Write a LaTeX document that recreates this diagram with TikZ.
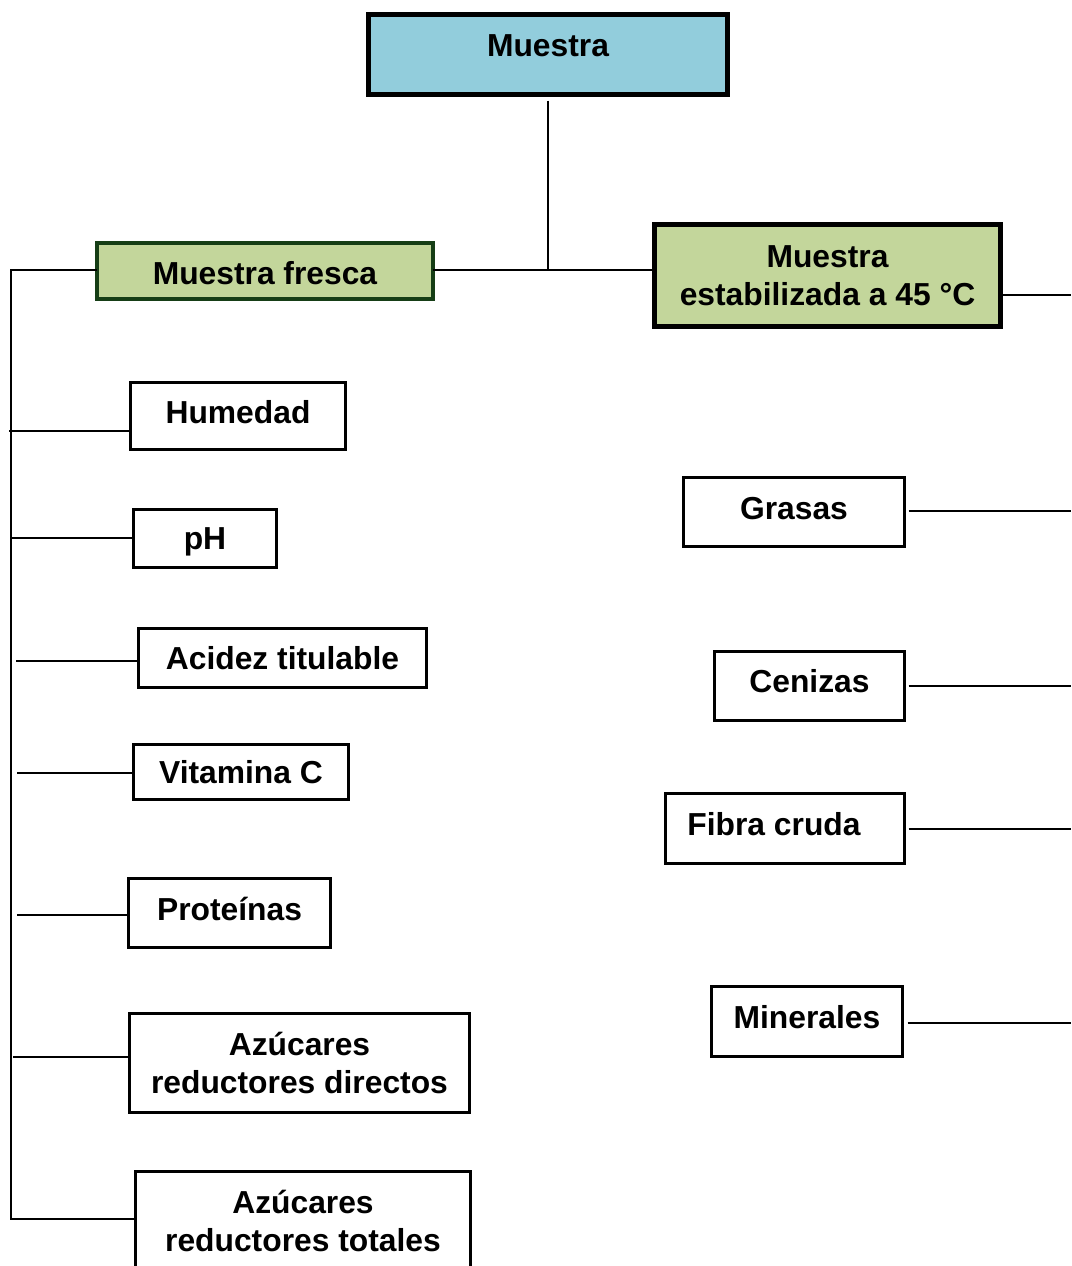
\documentclass[tikz,border=0pt]{standalone}
\usepackage{fontspec}
\setmainfont{Liberation Sans}
\definecolor{boxblue}{RGB}{146,205,220}
\definecolor{boxgreen}{RGB}{195,214,155}
\definecolor{darkgreen}{RGB}{22,62,22}
\begin{document}
\begin{tikzpicture}[x=1pt,y=-1pt,
  every node/.style={font=\fontsize{31.8}{38}\selectfont\bfseries, inner sep=0pt, outer sep=0pt},
  box/.style={draw, rectangle, line width=3.4pt, fill=white, text height=22.6pt, text depth=8pt},
  multibox/.style={draw, rectangle, line width=3.4pt, fill=white, align=center},
  conn/.style={line width=2.3pt}]
\useasboundingbox (0,0) rectangle (1071,1266);
% main boxes
\node[draw, line width=5pt, fill=boxblue, minimum width=359pt, minimum height=80pt, text height=22.6pt, text depth=19pt] (muestra) at (548,54.5) {Muestra};
\node[draw, line width=4.5pt, draw=darkgreen, fill=boxgreen, minimum width=336pt, minimum height=56pt, text height=27.6pt, text depth=0pt] (fresca) at (265,271) {Muestra fresca};
\node[draw, line width=5pt, fill=boxgreen, minimum width=346pt, minimum height=102pt, align=center] (estab) at (827.5,275.5) {Muestra\\estabilizada a 45 °C};
% left boxes
\node[box, minimum width=215pt, minimum height=67pt] (hum) at (238,416) {Humedad};
\node[box, minimum width=143pt, minimum height=58pt, text depth=0pt] (ph) at (205,538.5) {pH};
\node[box, minimum width=288pt, minimum height=59pt, text depth=0pt] (acid) at (282.5,658) {Acidez titulable};
\node[box, minimum width=215pt, minimum height=55pt, text depth=0pt] (vitc) at (241,772) {Vitamina C};
\node[box, minimum width=202pt, minimum height=69pt] (prot) at (229.5,913) {Proteínas};
\node[multibox, minimum width=340pt, minimum height=99pt] (ard) at (299.5,1063) {Azúcares\\reductores directos};
\node[multibox, minimum width=335pt, minimum height=99pt] (art) at (303,1221) {Azúcares\\reductores totales};
% right boxes
\node[box, minimum width=221pt, minimum height=69pt] (gras) at (794,512) {Grasas};
\node[box, minimum width=190pt, minimum height=69pt, text depth=10pt] (cen) at (809.5,686) {Cenizas};
\node[box, minimum width=239pt, minimum height=70pt] (fib) at (785,828.5) {Fibra cruda\hspace*{22pt}};
\node[box, minimum width=191pt, minimum height=70pt] (min) at (807,1021.5) {Minerales};
% connectors top
\coordinate (j) at (548,270);
\draw[conn] ([yshift=-6pt]muestra.south) -- (j);
\draw[conn] (fresca.east |- j) -- (estab.west |- j);
% left trunk
\coordinate (tt) at (11,270);
\coordinate (tb) at (11,1219);
\draw[conn] (fresca.west |- tt) -- (tt) -- (tb) -- (art.west |- tb);
\coordinate (lhum) at (9,431);
\coordinate (lph) at (11,538);
\coordinate (lacid) at (16,661);
\coordinate (lvitc) at (17,773);
\coordinate (lprot) at (17,915);
\coordinate (lard) at (13,1057);
\draw[conn] (lhum) -- (lhum -| hum.west);
\draw[conn] (lph) -- (lph -| ph.west);
\draw[conn] (lacid) -- (lacid -| acid.west);
\draw[conn] (lvitc) -- (lvitc -| vitc.west);
\draw[conn] (lprot) -- (lprot -| prot.west);
\draw[conn] (lard) -- (lard -| ard.west);
% right branches
\coordinate (rest) at (1071,295);
\coordinate (rgras) at (1071,511);
\coordinate (rcen) at (1071,686);
\coordinate (rfib) at (1071,829);
\coordinate (rmin) at (1071,1023);
\draw[conn] (rest -| estab.east) -- (rest);
\draw[conn, shorten <=4pt] (rgras -| gras.east) -- (rgras);
\draw[conn, shorten <=4pt] (rcen -| cen.east) -- (rcen);
\draw[conn, shorten <=4pt] (rfib -| fib.east) -- (rfib);
\draw[conn, shorten <=5pt] (rmin -| min.east) -- (rmin);
\end{tikzpicture}
\end{document}
